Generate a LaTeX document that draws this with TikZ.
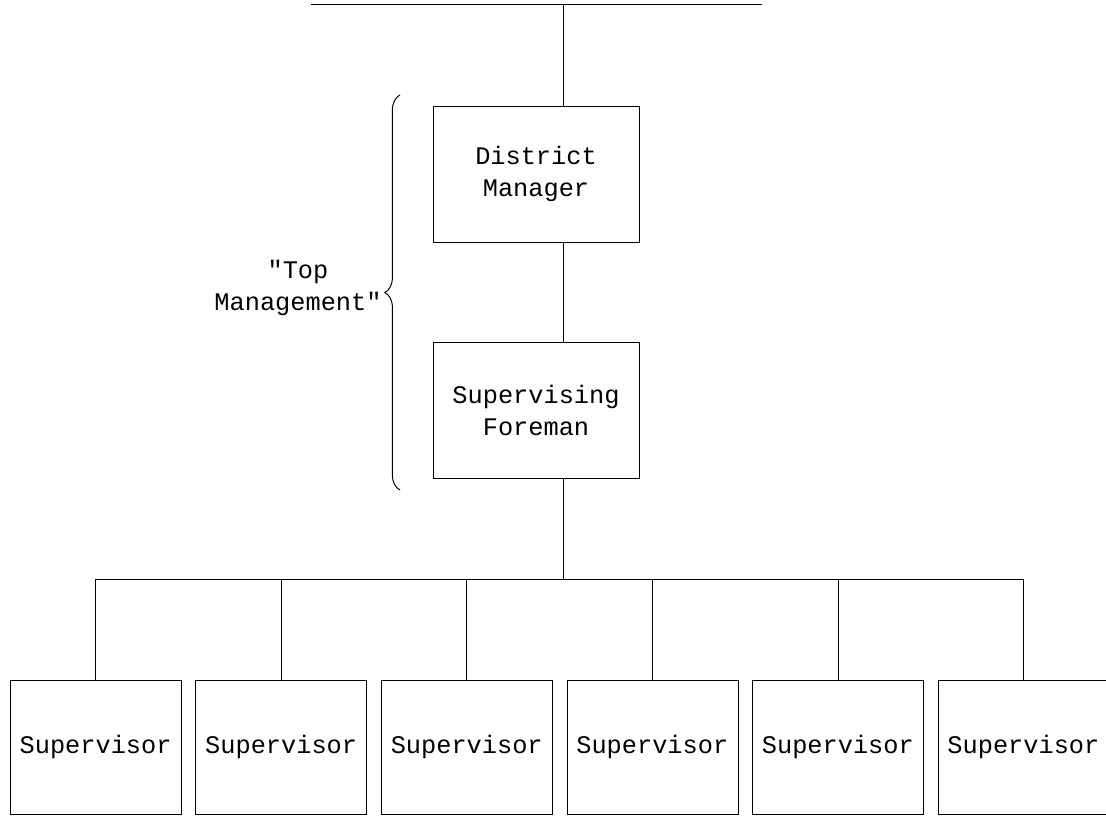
\documentclass[tikz,border=0pt]{standalone}
\usepackage{fontspec}
\setmainfont{Liberation Mono}
\usetikzlibrary{positioning, decorations.pathreplacing}
\tikzset{
line width=0.9pt, % all lines
every node/.style={font=\fontsize{18}{23}\selectfont}, % typewriter look
office/.style={draw, align=center, minimum width=5.15cm, minimum height=3.4cm}, % upper boxes
supbox/.style={draw, align=center, minimum width=4.275cm, minimum height=3.35cm}, % bottom row
}
\begin{document}
\begin{tikzpicture}
                \useasboundingbox (0,0) rectangle (27.65,-20.4);

                % top line and the spine down from it
                \coordinate (tl) at (7.78,-0.1);
                \coordinate (tr) at (19.05,-0.1);
                \coordinate (spine) at (14.07,-0.1);
                \draw (tl) -- (tr);

                \node[office] (dm) at (13.4,-4.35) {District\\Manager};
                \node[office, below=2.5cm of dm] (sf) {Supervising\\Foreman};

                \draw (spine) -- (spine |- dm.north);
                \draw (dm.south -| spine) -- (sf.north -| spine);

                % row of supervisors
                \node[supbox] (s1) at (2.39,-18.675) {Supervisor};
                \foreach \i [remember=\i as \j (initially 1)] in {2,...,6}
                    \node[supbox, right=0.35cm of s\j] (s\i) {Supervisor};

                \coordinate (bus) at (14.07,-14.475);
                \draw (sf.south -| spine) -- (bus);
                \draw (s1.north) |- (bus) -| (s6.north);
                \foreach \i in {2,...,5}
                    \draw (s\i.north) -- (s\i.north |- bus);

                % brace
                \coordinate (bb) at (10.0,-12.25);
                \coordinate (bt) at (10.0,-2.375);
                \draw[line width=0.7pt, decorate, decoration={brace, amplitude=0.38cm}] (bb) -- (bt);
                \node[align=center] (top) at (7.45,-7.2) {\textquotedbl Top\\Management\textquotedbl};
            \end{tikzpicture}
\end{document}
